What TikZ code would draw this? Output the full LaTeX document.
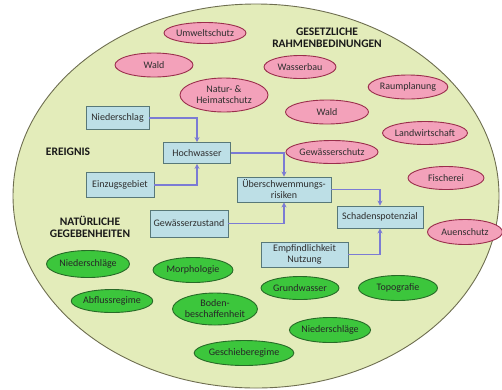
\documentclass[tikz,border=0pt]{standalone}
\usepackage{fontspec}
\setmainfont{Carlito}
\usetikzlibrary{shapes.geometric,arrows.meta}
\definecolor{bgfill}{HTML}{E3ECBA}
\definecolor{bgline}{HTML}{6E6E50}
\definecolor{pinkfill}{HTML}{F3A1BA}
\definecolor{pinkline}{HTML}{9A2E4C}
\definecolor{greenfill}{HTML}{3CC63C}
\definecolor{greenline}{HTML}{276A27}
\definecolor{bluefill}{HTML}{BDDFE6}
\definecolor{blueline}{HTML}{587878}
\definecolor{arrcol}{HTML}{7B7BD4}
\definecolor{txt}{HTML}{2E2E2E}
\tikzset{
  txtfont/.style={font=\fontsize{10}{11}\selectfont, text=txt, align=center},
  pinkell/.style={ellipse, draw=pinkline, fill=pinkfill, line width=0.9pt, inner sep=0pt, txtfont},
  greenell/.style={ellipse, draw=greenline, fill=greenfill, line width=0.9pt, inner sep=0pt, txtfont, text=black!85},
  bluebox/.style={rectangle, draw=blueline, fill=bluefill, line width=0.9pt, inner sep=0pt, txtfont},
  headline/.style={font=\bfseries\fontsize{11.5}{12.5}\selectfont, text=black!90, align=center},
  conn/.style={draw=arrcol, line width=1.1pt, -{Stealth[length=5pt,width=5pt]}}
}
\begin{document}
\begin{tikzpicture}[x=1pt,y=-1pt]
\useasboundingbox (0,0) rectangle (502,389);
\node[ellipse, draw=bgline, fill=bgfill, line width=0.9pt, minimum width=486pt, minimum height=384pt, inner sep=0pt] (bg) at (256,196) {};

% headlines
\node[headline] (gesetz) at (327,38) {GESETZLICHE\\RAHMENBEDINUNGEN};
\node[headline] (ereignis) at (68,152) {EREIGNIS};
\node[headline] (natur) at (90,227) {NATÜRLICHE\\GEGEBENHEITEN};

% pink ellipses
\node[pinkell, minimum width=76pt, minimum height=21pt] (umwelt) at (205,33) {Umweltschutz};
\node[pinkell, minimum width=78pt, minimum height=24pt] (wald1) at (154,65) {Wald};
\node[pinkell, minimum width=88pt, minimum height=34pt] (heimat) at (224,95) {Natur- \&\\Heimatschutz};
\node[pinkell, minimum width=72pt, minimum height=23pt] (wasserbau) at (300,67) {Wasserbau};
\node[pinkell, minimum width=79pt, minimum height=24pt] (raum) at (408,87) {Raumplanung};
\node[pinkell, minimum width=83pt, minimum height=24pt] (wald2) at (327,112) {Wald};
\node[pinkell, minimum width=78pt, minimum height=23pt] (landw) at (425,133) {Landwirtschaft};
\node[pinkell, minimum width=82pt, minimum height=23pt] (gewschutz) at (332,152) {Gewässerschutz};
\node[pinkell, minimum width=76pt, minimum height=23pt] (fisch) at (446,178) {Fischerei};
\node[pinkell, minimum width=75pt, minimum height=25pt] (auen) at (465,232) {Auenschutz};

% green ellipses
\node[greenell, minimum width=83pt, minimum height=27pt] (nied1) at (88,264) {Niederschläge};
\node[greenell, minimum width=80pt, minimum height=25pt] (morph) at (193,270) {Morphologie};
\node[greenell, minimum width=80pt, minimum height=23pt] (abfluss) at (112,301) {Abflussregime};
\node[greenell, minimum width=80pt, minimum height=32pt] (boden) at (215,309) {Boden-\\beschaffenheit};
\node[greenell, minimum width=78pt, minimum height=25pt] (geschiebe) at (244,353) {Geschieberegime};
\node[greenell, minimum width=78pt, minimum height=23pt] (grund) at (300,288) {Grundwasser};
\node[greenell, minimum width=79pt, minimum height=25pt] (topo) at (398,288) {Topografie};
\node[greenell, minimum width=78pt, minimum height=25pt] (nied2) at (330,330) {Niederschläge};

% blue boxes
\node[bluebox, minimum width=63pt, minimum height=23pt] (niederschlag) at (117.5,118) {Niederschlag};
\node[bluebox, minimum width=67pt, minimum height=21pt] (hochwasser) at (197,153) {Hochwasser};
\node[bluebox, minimum width=68pt, minimum height=25pt] (einzug) at (120,185) {Einzugsgebiet};
\node[bluebox, minimum width=94pt, minimum height=25pt] (uebers) at (284,189.5) {Überschwemmungs-\\risiken};
\node[bluebox, minimum width=78pt, minimum height=27pt] (gewzust) at (189,223.5) {Gewässerzustand};
\node[bluebox, minimum width=86pt, minimum height=22pt] (schaden) at (380,217) {Schadenspotenzial};
\node[bluebox, minimum width=87pt, minimum height=25pt] (empf) at (304.5,254.5) {Empfindlichkeit\\Nutzung};

% connectors
\draw[conn] (niederschlag.east) -| (hochwasser.north);
\draw[conn] (einzug.east) -| (hochwasser.south);
\draw[conn] (hochwasser.east) -| (uebers.north);
\draw[conn] (gewzust.east) -| (uebers.south);
\draw[conn] (uebers.east) -| (schaden.north);
\draw[conn] (empf.east) -| (schaden.south);
\end{tikzpicture}
\end{document}
